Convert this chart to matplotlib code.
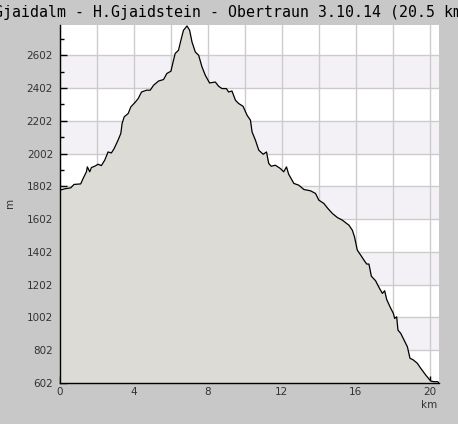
import matplotlib
matplotlib.use('Agg')
import matplotlib.pyplot as plt
from matplotlib.ticker import MultipleLocator, FuncFormatter

# Höhenprofil (km / m)
distanz_km = [0.0, 0.25, 0.58, 0.76, 1.12, 1.25, 1.43, 1.48, 1.61, 1.70, 1.88, 2.06, 2.24,
              2.42, 2.60, 2.78, 2.93, 3.14, 3.29, 3.36, 3.47, 3.69, 3.83, 4.08, 4.23, 4.41,
              4.68, 4.88, 5.06, 5.33, 5.60, 5.78, 6.00, 6.14, 6.23, 6.41, 6.54, 6.68, 6.87,
              7.01, 7.14, 7.32, 7.50, 7.68, 7.86, 8.09, 8.40, 8.58, 8.76, 9.00, 9.12, 9.30,
              9.49, 9.66, 9.90, 10.12, 10.30, 10.39, 10.57, 10.75, 10.99, 11.17, 11.29,
              11.42, 11.65, 11.92, 12.10, 12.25, 12.37, 12.65, 12.92, 13.19, 13.55, 13.82,
              14.00, 14.27, 14.49, 14.73, 15.00, 15.27, 15.63, 15.81, 15.93, 16.08, 16.26,
              16.44, 16.59, 16.71, 16.84, 17.07, 17.25, 17.44, 17.56, 17.67, 17.85, 18.03,
              18.10, 18.21, 18.28, 18.43, 18.61, 18.79, 18.93, 19.12, 19.33, 19.51, 19.78,
              20.05, 20.23, 20.42, 20.50]
hoehe_m = [1779, 1787, 1793, 1814, 1817, 1850, 1891, 1921, 1891, 1917, 1925, 1937, 1929,
           1962, 2012, 2006, 2033, 2084, 2125, 2186, 2226, 2247, 2287, 2317, 2338, 2378,
           2389, 2389, 2419, 2445, 2454, 2491, 2505, 2572, 2613, 2633, 2694, 2755, 2781,
           2755, 2683, 2622, 2602, 2531, 2480, 2433, 2439, 2413, 2399, 2399, 2378, 2384,
           2328, 2308, 2291, 2236, 2206, 2134, 2084, 2023, 1998, 2012, 1942,
           1925, 1931, 1911, 1891, 1921, 1876, 1820, 1809, 1783, 1775, 1759,
           1718, 1698, 1667, 1637, 1612, 1596, 1565, 1535, 1494, 1413, 1383,
           1352, 1328, 1328, 1254, 1226, 1186, 1149, 1165, 1112, 1067, 1027,
           996, 1006, 925, 905, 864, 823, 753, 742, 722, 692, 651,
           614, 610, 610, 604]

titel = "Gjaidalm - H.Gjaidstein - Obertraun 3.10.14 (20.5 km)"
y_min, y_max = 602, 2790
x_max = 20.5

fig = plt.figure(figsize=(4.58, 4.24), dpi=100, facecolor='#c8c8c8')
ax = fig.add_axes([60 / 458, 41 / 424, 379 / 458, 358.5 / 424])
ax.set_facecolor('white')

# abwechselnde Bänder alle 200 m
for i, unten in enumerate(range(y_min, y_max, 200)):
    if i % 2 == 1:
        ax.axhspan(unten, unten + 200, color='#f3f1f5', zorder=0, lw=0)

ax.fill_between(distanz_km, hoehe_m, y_min, color='#dcdbd6', zorder=2, lw=0)
ax.plot(distanz_km, hoehe_m, color='black', linewidth=0.9, zorder=3)

ax.set_xlim(0, x_max)
ax.set_ylim(y_min, y_max)

ax.xaxis.set_major_locator(MultipleLocator(2))
ax.xaxis.set_minor_locator(MultipleLocator(1))
ax.xaxis.set_major_formatter(FuncFormatter(lambda v, p: f"{int(v)}" if int(round(v)) % 4 == 0 else ""))
ax.set_yticks(range(y_min, y_max, 200))
ax.set_yticks(range(y_min + 100, y_max, 200), minor=True)

ax.grid(True, which='major', color='#cccccc', linewidth=1, zorder=1)
ax.set_axisbelow(True)
for s in ['top', 'right']:
    ax.spines[s].set_visible(False)
for s in ['left', 'bottom']:
    ax.spines[s].set_linewidth(1)
    ax.spines[s].set_zorder(4)

ax.tick_params(which='major', direction='in', length=5, width=1, colors='black',
               labelcolor='#333333', labelsize=7.5)
ax.tick_params(which='minor', direction='in', length=3, width=1, colors='black')
ax.tick_params(axis='y', pad=5)
ax.tick_params(axis='x', pad=3)

# Titel ist im Original links und rechts abgeschnitten
fig.text(233 / 458, 1 - 12 / 424, titel, ha='center', va='center',
         family='DejaVu Sans Mono', fontsize=10.7, color='black')
fig.text(10 / 458, 1 - 203 / 424, 'm', rotation=90, ha='center', va='center',
         fontsize=7.5, color='#333333')
fig.text(429 / 458, 1 - 405 / 424, 'km', ha='center', va='center',
         fontsize=7.5, color='#333333')

fig.savefig('out.png', dpi=100, facecolor=fig.get_facecolor())
